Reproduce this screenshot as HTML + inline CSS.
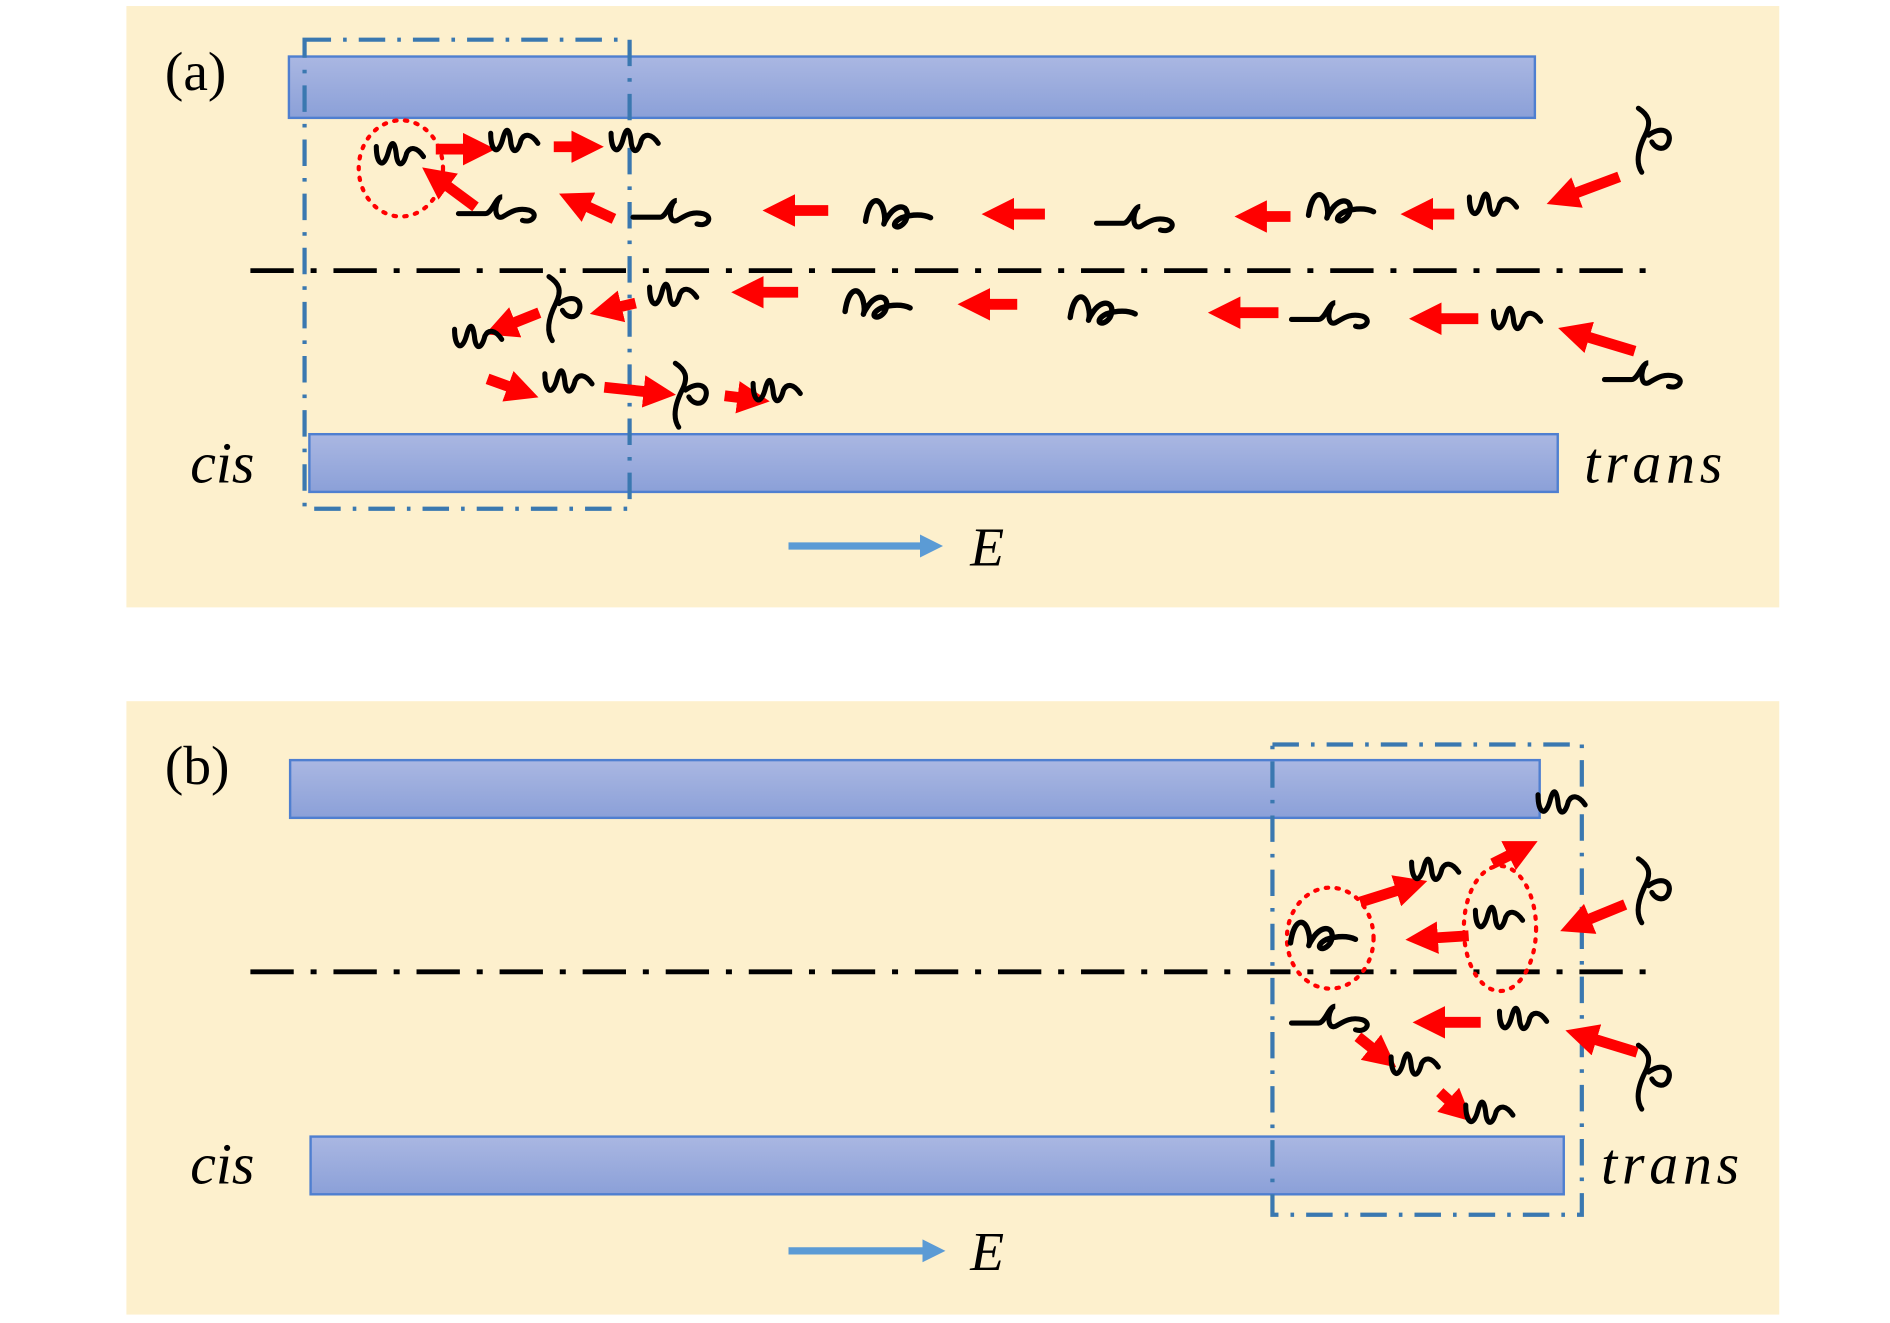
<!DOCTYPE html>
<html><head><meta charset="utf-8"><style>
html,body{margin:0;padding:0;background:#fff;}
svg{display:block;}
</style></head><body>
<svg width="1890" height="1323" viewBox="0 0 1570 1100" preserveAspectRatio="none" xmlns="http://www.w3.org/2000/svg">
<defs>
<linearGradient id="bar" x1="0" y1="0" x2="0" y2="1"><stop offset="0" stop-color="#aab7e2"/><stop offset="1" stop-color="#8ba0d8"/></linearGradient>
<marker id="ah" viewBox="0 0 10 10" refX="2" refY="5" markerWidth="3" markerHeight="3" orient="auto"><path d="M0,0 L10,5 L0,10 z" fill="#f00"/></marker>
<marker id="bh" viewBox="0 0 10 10" refX="2" refY="5" markerWidth="3.2" markerHeight="3.6" orient="auto"><path d="M0,0 L10,5 L0,10 z" fill="#5b9bd5"/></marker>
<g id="sq" transform="scale(1.4)"><path d="M-16,-8 c0,10 4,14 7,4 c2,-8 4,-8 5,2 c1,6 4,6 6,-2 c2,-4 6,-4 10,2" fill="none" stroke="#000" stroke-width="3" stroke-linecap="round"/></g>
<g id="sq2" transform="scale(1.4)"><path d="M-28,4 l16,0 c4,0 6,-10 10,-10 c-4,0 -6,14 0,12 c4,-2 8,-6 16,-4 c6,2 2,8 -4,6" fill="none" stroke="#000" stroke-width="3" stroke-linecap="round"/></g>
<g id="sq3" transform="scale(1.5)"><path d="M-22,6 c2,-14 8,-14 10,-6 c2,8 -2,10 2,4 c6,-10 14,-6 10,2 c-4,6 -10,2 -2,-2 c6,-2 12,-2 16,0" fill="none" stroke="#000" stroke-width="3" stroke-linecap="round"/></g>
<g id="sq4" transform="scale(1.4)"><path d="M-10,-20 c6,4 8,8 4,16 c-4,8 -6,16 -2,22 M-4,-4 c8,-6 14,-2 12,4 c-2,6 -8,4 -10,0" fill="none" stroke="#000" stroke-width="3" stroke-linecap="round"/></g>
</defs>
<!-- Panel a -->
<rect x="105" y="5" width="1373" height="500" fill="#fdf0cd"/>
<rect x="240" y="47" width="1035" height="51" fill="url(#bar)" stroke="#4f7fd0" stroke-width="2"/>
<rect x="257" y="361" width="1037" height="48" fill="url(#bar)" stroke="#4f7fd0" stroke-width="2"/>
<rect x="253" y="33" width="270" height="390" fill="none" stroke="#3a78b0" stroke-width="3.5" stroke-dasharray="22,10,3,10"/>
<line x1="208" y1="225" x2="1370" y2="225" stroke="#000" stroke-width="4" stroke-dasharray="36,14,5,14"/>
<text x="137" y="75" font-family="Liberation Serif,serif" font-size="46">(a)</text>
<text x="158" y="401" font-family="Liberation Serif,serif" font-style="italic" font-size="48">cis</text>
<text x="1316" y="401" font-family="Liberation Serif,serif" font-style="italic" font-size="48" letter-spacing="4">trans</text>
<line x1="655" y1="454" x2="768" y2="454" stroke="#5b9bd5" stroke-width="6" marker-end="url(#bh)"/>
<text x="806" y="470" font-family="Liberation Serif,serif" font-style="italic" font-size="46">E</text>
<ellipse cx="333" cy="140" rx="35" ry="40" fill="none" stroke="#f00" stroke-width="3.5" stroke-dasharray="2,7" stroke-linecap="round"/>
<g stroke="#f00" stroke-width="9" marker-end="url(#ah)" fill="none">
<line x1="362" y1="124" x2="390" y2="124"/>
<line x1="460" y1="122" x2="480" y2="122"/>
<line x1="395" y1="172" x2="368" y2="152"/>
<line x1="510" y1="182" x2="484" y2="170"/>
<line x1="688" y1="175" x2="655" y2="175"/>
<line x1="868" y1="178" x2="837" y2="178"/>
<line x1="1072" y1="180" x2="1047" y2="180"/>
<line x1="1208" y1="178" x2="1185" y2="178"/>
<line x1="1345" y1="147" x2="1305" y2="162"/>
<line x1="528" y1="252" x2="511" y2="256"/>
<line x1="448" y1="260" x2="423" y2="270"/>
<line x1="663" y1="243" x2="629" y2="243"/>
<line x1="845" y1="253" x2="817" y2="253"/>
<line x1="1062" y1="260" x2="1025" y2="260"/>
<line x1="1228" y1="265" x2="1192" y2="265"/>
<line x1="1358" y1="292" x2="1315" y2="279"/>
<line x1="405" y1="315" x2="427" y2="323"/>
<line x1="502" y1="322" x2="540" y2="326"/>
<line x1="602" y1="329" x2="618" y2="331"/>
</g>
<use href="#sq" x="335" y="133"/><use href="#sq" x="430" y="122"/><use href="#sq" x="530" y="122"/>
<use href="#sq2" x="420" y="172"/><use href="#sq2" x="565" y="175"/><use href="#sq3" x="752" y="175"/>
<use href="#sq2" x="950" y="180"/><use href="#sq3" x="1120" y="170"/><use href="#sq" x="1243" y="175"/>
<use href="#sq4" x="1375" y="118"/>
<use href="#sq4" x="470" y="258"/><use href="#sq" x="562" y="250"/><use href="#sq3" x="735" y="250"/>
<use href="#sq3" x="922" y="255"/><use href="#sq2" x="1112" y="260"/><use href="#sq" x="1263" y="270"/>
<use href="#sq2" x="1372" y="310"/><use href="#sq" x="400" y="285"/><use href="#sq" x="475" y="322"/>
<use href="#sq4" x="575" y="330"/><use href="#sq" x="648" y="330"/>
<!-- Panel b -->
<rect x="105" y="583" width="1373" height="510" fill="#fdf0cd"/>
<rect x="241" y="632" width="1038" height="48" fill="url(#bar)" stroke="#4f7fd0" stroke-width="2"/>
<rect x="258" y="945" width="1041" height="48" fill="url(#bar)" stroke="#4f7fd0" stroke-width="2"/>
<rect x="1057" y="619" width="257" height="391" fill="none" stroke="#3a78b0" stroke-width="3.5" stroke-dasharray="22,10,3,10"/>
<line x1="208" y1="808" x2="1375" y2="808" stroke="#000" stroke-width="4" stroke-dasharray="36,14,5,14"/>
<text x="137" y="652" font-family="Liberation Serif,serif" font-size="46">(b)</text>
<text x="158" y="984" font-family="Liberation Serif,serif" font-style="italic" font-size="48">cis</text>
<text x="1330" y="984" font-family="Liberation Serif,serif" font-style="italic" font-size="48" letter-spacing="4">trans</text>
<line x1="655" y1="1040" x2="770" y2="1040" stroke="#5b9bd5" stroke-width="6" marker-end="url(#bh)"/>
<text x="806" y="1056" font-family="Liberation Serif,serif" font-style="italic" font-size="46">E</text>
<ellipse cx="1105" cy="780" rx="36" ry="42" fill="none" stroke="#f00" stroke-width="3.5" stroke-dasharray="2,7" stroke-linecap="round"/>
<ellipse cx="1246" cy="772" rx="30" ry="52" fill="none" stroke="#f00" stroke-width="3.5" stroke-dasharray="2,7" stroke-linecap="round"/>
<g stroke="#f00" stroke-width="9" marker-end="url(#ah)" fill="none">
<line x1="1130" y1="750" x2="1165" y2="739"/>
<line x1="1240" y1="718" x2="1258" y2="709"/>
<line x1="1220" y1="778" x2="1189" y2="780"/>
<line x1="1350" y1="752" x2="1316" y2="766"/>
<line x1="1230" y1="850" x2="1195" y2="850"/>
<line x1="1360" y1="875" x2="1321" y2="863"/>
<line x1="1128" y1="862" x2="1143" y2="874"/>
<line x1="1196" y1="908" x2="1207" y2="918"/>
</g>
<use href="#sq3" x="1105" y="775"/><use href="#sq" x="1195" y="728"/><use href="#sq" x="1248" y="768"/>
<use href="#sq" x="1300" y="672"/><use href="#sq4" x="1375" y="742"/><use href="#sq2" x="1112" y="845"/>
<use href="#sq" x="1268" y="852"/><use href="#sq4" x="1375" y="897"/><use href="#sq" x="1178" y="890"/>
<use href="#sq" x="1240" y="930"/>
</svg>
</body></html>
